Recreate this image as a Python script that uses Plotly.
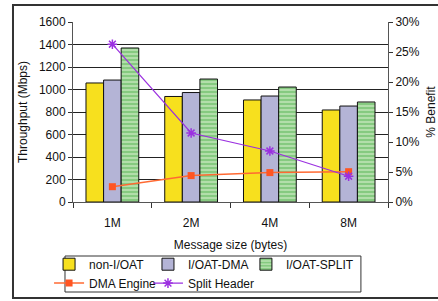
import plotly.graph_objects as go

categories = ["1M", "2M", "4M", "8M"]
non_ioat = [1058, 938, 907, 818]
ioat_dma = [1084, 973, 942, 853]
ioat_split = [1369, 1093, 1022, 889]
dma_engine = [2.55, 4.4, 4.9, 5.05]
split_header = [26.3, 11.5, 8.5, 4.3]

FONT = "Liberation Sans, Arial, sans-serif"

fig = go.Figure()
fig.add_trace(go.Bar(x=categories, y=non_ioat, name="non-I/OAT",
                     marker=dict(color="#F7E01E", line=dict(color="#111111", width=1)),
                     legend="legend"))
fig.add_trace(go.Bar(x=categories, y=ioat_dma, name="I/OAT-DMA",
                     marker=dict(color="#B4B4D6", line=dict(color="#111111", width=1)),
                     legend="legend2"))
fig.add_trace(go.Bar(x=categories, y=ioat_split, name="I/OAT-SPLIT",
                     marker=dict(color="#A8D9A0", line=dict(color="#111111", width=1),
                                 pattern=dict(shape="-", fgcolor="#1E9A1E", bgcolor="#B2DEAA",
                                              size=4, solidity=0.3)),
                     legend="legend3"))
fig.add_trace(go.Scatter(x=categories, y=dma_engine, name="DMA Engine", yaxis="y2",
                         mode="lines+markers",
                         line=dict(color="#FF6A33", width=1.5),
                         marker=dict(symbol="square", size=7, color="#FF5522"),
                         legend="legend4"))
fig.add_trace(go.Scatter(x=categories, y=split_header, name="Split Header", yaxis="y2",
                         mode="lines+markers",
                         line=dict(color="#9B30E0", width=1.2),
                         marker=dict(symbol="asterisk-open", size=8,
                                     line=dict(color="#9B30E0", width=1.5)),
                         legend="legend5"))

def leg(x, y):
    return dict(orientation="v", x=x, xanchor="left", y=y, yanchor="top",
                bgcolor="rgba(0,0,0,0)", borderwidth=0, itemwidth=30,
                font=dict(size=12))

row1, row2 = -0.265, -0.37
col1, col2, col3 = -0.076, 0.238, 0.549

fig.update_layout(
    width=438, height=301,
    margin=dict(l=73, r=50, t=22, b=99, autoexpand=False),
    paper_bgcolor="white", plot_bgcolor="white",
    font=dict(family=FONT, size=12, color="#111111"),
    barmode="group", bargap=0.33, bargroupgap=0,
    showlegend=True,
    xaxis=dict(
        type="category", tickson="boundaries", ticks="outside", ticklen=5,
        tickcolor="#333333", showgrid=False, showline=True, linecolor="#555555",
        linewidth=1, ticklabelstandoff=10,
        title=dict(text="Message size (bytes)", standoff=11, font=dict(size=12)),
    ),
    yaxis=dict(
        range=[0, 1600], dtick=200, ticks="outside", ticklen=4, tickcolor="#333333",
        showgrid=True, gridcolor="#222222", gridwidth=1,
        showline=True, linecolor="#555555", linewidth=1,
        zeroline=False,
        title=dict(text="Throughput (Mbps)", standoff=8, font=dict(size=12)),
    ),
    yaxis2=dict(
        range=[0, 30], dtick=5, ticksuffix="%", overlaying="y", side="right",
        ticks="outside", ticklen=4, tickcolor="#333333", showgrid=False,
        showline=True, linecolor="#555555", linewidth=1, zeroline=False,
        title=dict(text="% Benefit", standoff=7, font=dict(size=12)),
    ),
    legend=leg(col1, row1),
    legend2=leg(col2, row1),
    legend3=leg(col3, row1),
    legend4=leg(col1, row2),
    legend5=leg(col2, row2),
    shapes=[
        dict(type="rect", xref="paper", yref="paper", x0=-0.0254, x1=0.914,
             y0=-0.5, y1=-0.3, line=dict(color="#333333", width=1)),
        dict(type="rect", xref="paper", yref="paper", x0=-0.1905, x1=1.2,
             y0=-0.5333, y1=1.0944, line=dict(color="#333333", width=2),
             layer="below"),
    ],
)

fig.write_html("out.html", config={"displayModeBar": False},
               post_script="document.body.style.margin='0';")
